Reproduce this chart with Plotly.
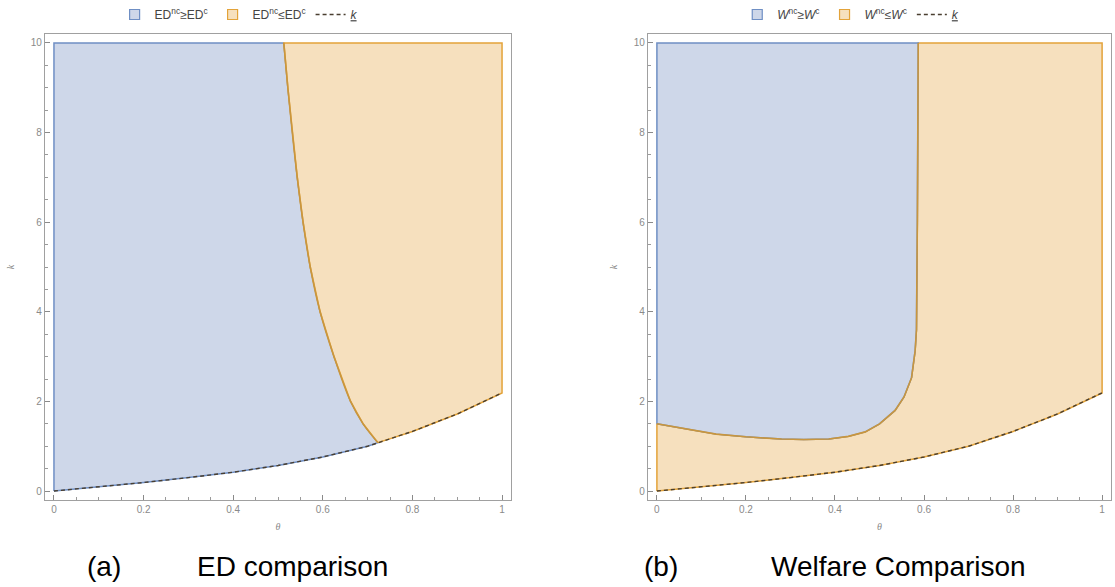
import plotly.graph_objects as go

# ---------------- data ----------------
# lower bound k_(theta) (same in both panels)
theta_lb = [0.0, 0.1, 0.2, 0.3, 0.4, 0.5, 0.6, 0.7, 0.723, 0.8, 0.9, 1.0]
k_lb = [0.0, 0.09, 0.19, 0.30, 0.42, 0.57, 0.76, 1.0, 1.08, 1.33, 1.72, 2.19]

# panel (a): boundary ED^nc = ED^c, from top to junction with k_
theta_ed = [0.513, 0.522, 0.532, 0.543, 0.556, 0.572, 0.594, 0.625, 0.662, 0.69, 0.723]
k_ed = [10.0, 9.0, 8.0, 7.0, 6.0, 5.0, 4.0, 3.0, 2.0, 1.5, 1.08]

# panel (b): boundary W^nc = W^c, from theta=0 to top
theta_w = [0.0, 0.07, 0.133, 0.2, 0.28, 0.33, 0.386, 0.43, 0.468, 0.5, 0.535, 0.555, 0.572, 0.58, 0.583, 0.585, 0.587]
k_w = [1.50, 1.38, 1.27, 1.21, 1.16, 1.15, 1.16, 1.22, 1.32, 1.5, 1.8, 2.1, 2.53, 3.13, 3.6, 6.0, 10.0]

k_top = 10.0
theta_min, theta_max = 0.0, 1.0

x_ticks = [0, 0.2, 0.4, 0.6, 0.8, 1]
x_ticklabels = ["0", "0.2", "0.4", "0.6", "0.8", "1"]
y_ticks = [0, 2, 4, 6, 8, 10]

# ---------------- styles ----------------
BLUE_FILL = "rgb(206,215,233)"
BLUE_LINE = "#6f8fc4"
ORANGE_FILL = "rgb(246,224,190)"
ORANGE_LINE = "#e3a33a"
SHARED_LINE = "#c9963e"
DASH_COLOR = "#4a3f30"

fig = go.Figure()


def lb_between(a, b):
    xs, ys = [], []
    for t, k in zip(theta_lb, k_lb):
        if a - 1e-9 <= t <= b + 1e-9:
            xs.append(t)
            ys.append(k)
    return xs, ys


def legend_box(name, fill, border, legend, rank):
    fig.add_trace(go.Scatter(x=[None], y=[None], mode="markers", name=name,
                             marker=dict(symbol="square", size=10, color=fill,
                                         line=dict(color=border, width=1.2)),
                             legend=legend, legendrank=rank, showlegend=True))


# ======== Panel (a) ========
junction = theta_ed[-1]
lbx, lby = lb_between(theta_min, junction)
bx = lbx + theta_ed[::-1][1:] + [theta_min, theta_min]
by = lby + k_ed[::-1][1:] + [k_top, 0.0]
fig.add_trace(go.Scatter(x=bx, y=by, fill="toself", fillcolor=BLUE_FILL,
                         mode="lines", line=dict(color=BLUE_LINE, width=1.5),
                         showlegend=False, xaxis="x", yaxis="y", hoverinfo="skip"))
rx, ry = lb_between(junction, theta_max)
ox = rx + [theta_max] + theta_ed + [junction]
oy = ry + [k_top] + k_ed + [k_lb[theta_lb.index(junction)]]
fig.add_trace(go.Scatter(x=ox, y=oy, fill="toself", fillcolor=ORANGE_FILL,
                         mode="lines", line=dict(color=ORANGE_LINE, width=1.5),
                         showlegend=False, xaxis="x", yaxis="y", hoverinfo="skip"))
fig.add_trace(go.Scatter(x=theta_ed, y=k_ed, mode="lines", line_shape="spline",
                         line=dict(color=SHARED_LINE, width=1.6),
                         showlegend=False, xaxis="x", yaxis="y", hoverinfo="skip"))
fig.add_trace(go.Scatter(x=theta_lb, y=k_lb, mode="lines",
                         line=dict(color=DASH_COLOR, width=1.4, dash="4px,3px"),
                         showlegend=False, xaxis="x", yaxis="y", hoverinfo="skip"))
legend_box("ED<sup>nc</sup>≥ED<sup>c</sup>", BLUE_FILL, BLUE_LINE, "legend", 1)
legend_box("ED<sup>nc</sup>≤ED<sup>c</sup>", ORANGE_FILL, ORANGE_LINE, "legend", 2)
fig.add_trace(go.Scatter(x=[None], y=[None], mode="lines", name="<u><i>k</i></u>",
                         line=dict(color=DASH_COLOR, width=1.4, dash="4px,3px"),
                         legend="legend", legendrank=3))

# ======== Panel (b) ========
lbx2, lby2 = lb_between(theta_min, theta_max)
ox2 = lbx2 + [theta_max] + theta_w[::-1] + [theta_min]
oy2 = lby2 + [k_top] + k_w[::-1] + [0.0]
fig.add_trace(go.Scatter(x=ox2, y=oy2, fill="toself", fillcolor=ORANGE_FILL,
                         mode="lines", line=dict(color=ORANGE_LINE, width=1.5),
                         showlegend=False, xaxis="x2", yaxis="y2", hoverinfo="skip"))
bx2 = theta_w + [theta_min, theta_min]
by2 = k_w + [k_top, k_w[0]]
fig.add_trace(go.Scatter(x=bx2, y=by2, fill="toself", fillcolor=BLUE_FILL,
                         mode="lines", line=dict(color=BLUE_LINE, width=1.5),
                         showlegend=False, xaxis="x2", yaxis="y2", hoverinfo="skip"))
fig.add_trace(go.Scatter(x=theta_w, y=k_w, mode="lines",
                         line=dict(color=SHARED_LINE, width=1.6),
                         showlegend=False, xaxis="x2", yaxis="y2", hoverinfo="skip"))
fig.add_trace(go.Scatter(x=theta_lb, y=k_lb, mode="lines",
                         line=dict(color=DASH_COLOR, width=1.4, dash="4px,3px"),
                         showlegend=False, xaxis="x2", yaxis="y2", hoverinfo="skip"))
legend_box("<i>W</i><sup>nc</sup>≥<i>W</i><sup>c</sup>", BLUE_FILL, BLUE_LINE, "legend2", 1)
legend_box("<i>W</i><sup>nc</sup>≤<i>W</i><sup>c</sup>", ORANGE_FILL, ORANGE_LINE, "legend2", 2)
fig.add_trace(go.Scatter(x=[None], y=[None], mode="lines", name="<u><i>k</i></u>",
                         line=dict(color=DASH_COLOR, width=1.4, dash="4px,3px"),
                         legend="legend2", legendrank=3))

W, H = 1115, 587
TICK_FONT = dict(family="Liberation Sans, Arial", size=10, color="#8a8a8a")
common_x = dict(range=[-0.02, 1.02], tickvals=x_ticks, ticktext=x_ticklabels,
                ticks="inside", ticklen=5, tickcolor="#8a8a8a",
                showline=True, linecolor="#a0a0a0", linewidth=1.3, mirror=True,
                showgrid=False, zeroline=False, tickfont=TICK_FONT,
                minor=dict(ticks="inside", ticklen=2.5, dtick=0.05, tickcolor="#9a9a9a"),
                title=dict(text="<i>θ</i>", font=dict(family="Liberation Serif", size=10, color="#8a8a8a"),
                           standoff=8))
common_y = dict(range=[-0.2, 10.2], tickvals=y_ticks,
                ticks="inside", ticklen=5, tickcolor="#8a8a8a",
                showline=True, linecolor="#a0a0a0", linewidth=1.3, mirror=True,
                showgrid=False, zeroline=False, tickfont=TICK_FONT,
                minor=dict(ticks="inside", ticklen=2.5, dtick=0.5, tickcolor="#9a9a9a"),
                title=dict(text="<i>k</i>", font=dict(family="Liberation Serif", size=10, color="#8a8a8a"),
                           standoff=14))

LEG_FONT = dict(family="Liberation Sans, Arial", size=12, color="#444")
ydom = [(H - 500) / H, (H - 34) / H]
fig.update_layout(
    width=W, height=H, margin=dict(l=0, r=0, t=0, b=0),
    paper_bgcolor="white", plot_bgcolor="white",
    xaxis=dict(domain=[45 / W, 511 / W], anchor="y", **common_x),
    yaxis=dict(domain=ydom, anchor="x", **common_y),
    xaxis2=dict(domain=[648 / W, 1111 / W], anchor="y2", **common_x),
    yaxis2=dict(domain=ydom, anchor="x2", **common_y),
    legend=dict(orientation="h", x=0.214, xanchor="center", y=1.0, yanchor="top",
                font=LEG_FONT, itemwidth=30, tracegroupgap=0, bgcolor="rgba(0,0,0,0)",
                traceorder="normal"),
    legend2=dict(orientation="h", x=0.763, xanchor="center", y=1.0, yanchor="top",
                 font=LEG_FONT, itemwidth=30, tracegroupgap=0, bgcolor="rgba(0,0,0,0)",
                 traceorder="normal"),
    showlegend=True,
)

CAP_FONT = dict(family="Liberation Sans, Arial", size=28, color="black")
cap_y = (H - 566) / H
for x, txt in [(104, "(a)"), (292, "ED comparison"), (661, "(b)"), (898, "Welfare Comparison")]:
    fig.add_annotation(x=x / W, y=cap_y, xref="paper", yref="paper", text=txt,
                       showarrow=False, font=CAP_FONT, xanchor="center", yanchor="middle")

fig.write_html("out.html")
